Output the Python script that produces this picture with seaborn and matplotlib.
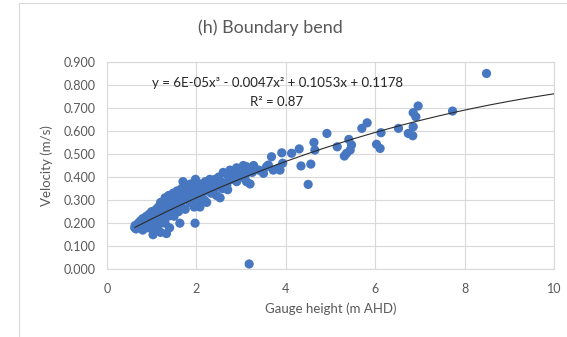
import numpy as np
import pandas as pd
import matplotlib
matplotlib.use("Agg")
import matplotlib.pyplot as plt
from matplotlib.lines import Line2D
import seaborn as sns

# Gauge height (m AHD) and velocity (m/s)
gauge_height = [
    0.62, 0.63, 0.65, 0.70, 0.72, 0.75, 0.78, 0.80, 0.80,
    0.85, 0.88, 0.90, 0.92, 0.95, 0.97, 1.00, 1.00,
    1.03, 1.05, 1.07, 1.10, 1.12, 1.15, 1.15, 1.18, 1.20, 1.20,
    1.22, 1.25, 1.28, 1.30, 1.30, 1.33, 1.35, 1.37, 1.38, 1.40,
    1.42, 1.45, 1.48, 1.50, 1.50, 1.52, 1.55, 1.57, 1.60, 1.60,
    1.62, 1.63, 1.65, 1.67, 1.70, 1.70, 1.72, 1.75, 1.77, 1.80,
    1.82, 1.85, 1.87, 1.90, 1.92, 1.95, 1.97, 1.98, 2.00, 2.00,
    2.03, 2.05, 2.08, 2.10, 2.12, 2.15, 2.18, 2.20, 2.23, 2.25, 2.28,
    2.30, 2.33, 2.35, 2.40, 2.42, 2.45, 2.48, 2.50, 2.53, 2.55, 2.58,
    2.60, 2.63, 2.68, 2.70, 2.72, 2.75, 2.80, 2.85, 2.90, 2.90, 2.95, 3.00,
    3.02, 3.05, 3.10, 3.12, 3.12, 3.15, 3.18, 3.20, 3.25, 3.28,
    3.40, 3.50, 3.57, 3.61, 3.68, 3.72, 3.83, 3.87, 3.91, 3.93,
    4.13, 4.30, 4.34, 4.50, 4.56, 4.63, 4.65, 4.92,
    5.15, 5.31, 5.36, 5.41, 5.44, 5.47, 5.70, 5.82, 6.03, 6.11, 6.13,
    6.52, 6.74, 6.84, 6.85, 6.85, 6.91, 6.96, 7.73, 8.49,
]
velocity = [
    0.180, 0.190, 0.175, 0.200, 0.185, 0.210, 0.190, 0.170, 0.220,
    0.200, 0.230, 0.210, 0.180, 0.240, 0.220, 0.200, 0.250,
    0.150, 0.170, 0.230, 0.260, 0.210, 0.190, 0.270, 0.240, 0.160, 0.290,
    0.220, 0.250, 0.280, 0.200, 0.310, 0.155, 0.270, 0.230, 0.320, 0.180,
    0.300, 0.260, 0.330, 0.230, 0.290, 0.310, 0.270, 0.340, 0.250, 0.300,
    0.320, 0.200, 0.280, 0.350, 0.380, 0.300, 0.330, 0.260, 0.360, 0.310,
    0.340, 0.290, 0.370, 0.320, 0.350, 0.270, 0.200, 0.390, 0.330, 0.360,
    0.300, 0.340, 0.270, 0.370, 0.320, 0.350, 0.300, 0.380, 0.290, 0.340, 0.360,
    0.390, 0.330, 0.370, 0.350, 0.390, 0.320, 0.360, 0.400, 0.310, 0.380, 0.350,
    0.420, 0.370, 0.365, 0.345, 0.400, 0.430, 0.390, 0.410, 0.380, 0.440, 0.420, 0.400,
    0.430, 0.450, 0.410, 0.380, 0.445, 0.430, 0.023, 0.370, 0.420, 0.450,
    0.430, 0.416, 0.445, 0.452, 0.488, 0.430, 0.438, 0.430, 0.505, 0.460,
    0.503, 0.522, 0.448, 0.368, 0.456, 0.550, 0.517, 0.589,
    0.531, 0.491, 0.503, 0.563, 0.517, 0.539, 0.611, 0.635, 0.542, 0.524, 0.592,
    0.611, 0.589, 0.579, 0.618, 0.679, 0.661, 0.708, 0.686, 0.849,
]

# Excel polynomial trendline coefficients (as printed on the chart)
trend_coeffs = [6e-05, -0.0047, 0.1053, 0.1178]
trend_range = [0.62, 10.0]

x_ticks = [0, 2, 4, 6, 8, 10]
y_ticks = [0.0, 0.1, 0.2, 0.3, 0.4, 0.5, 0.6, 0.7, 0.8, 0.9]

df = pd.DataFrame({"Gauge height": gauge_height, "Velocity": velocity})
tx = np.linspace(trend_range[0], trend_range[1], 200)
trend = pd.DataFrame({"x": tx, "y": np.polyval(trend_coeffs, tx)})

sns.set_theme(style="white")
plt.rcParams["font.family"] = ["Lato", "DejaVu Sans"]

text_col = "#595959"
grid_col = "#d9d9d9"

fig = plt.figure(figsize=(5.67, 3.37), dpi=100)
ax = fig.add_axes([107 / 567, 1 - 269.3 / 337, (554 - 107) / 567, (269.3 - 61.7) / 337])

ax.set_axisbelow(True)
ax.set_xlim(0, 10)
ax.set_ylim(0, 0.9)
ax.set_xticks(x_ticks)
ax.set_yticks(y_ticks)
ax.set_xticklabels([f"{t:g}" for t in x_ticks])
ax.set_yticklabels([f"{t:.3f}" for t in y_ticks])
ax.grid(True, color=grid_col, linewidth=0.8)
for s in ax.spines.values():
    s.set_color(grid_col)
    s.set_linewidth(0.8)
ax.tick_params(axis="y", length=0, labelsize=9, labelcolor=text_col, pad=8)
ax.tick_params(axis="x", length=0, labelsize=9, labelcolor=text_col, pad=10)

sns.scatterplot(data=df, x="Gauge height", y="Velocity", ax=ax, color="#4677c0",
                s=44, edgecolor="none", linewidth=0, zorder=3)
sns.lineplot(data=trend, x="x", y="y", ax=ax, color="#2b2b2b", linewidth=0.8, zorder=4)

ax.set_xlabel("Gauge height (m AHD)", fontsize=9.5, color=text_col, labelpad=5)
ax.set_ylabel("Velocity (m/s)", fontsize=9.5, color=text_col, labelpad=8)

fig.text(270 / 567, 1 - 28 / 337, "(h) Boundary bend", ha="center", va="center",
         fontsize=13, color=text_col)
fig.text(277 / 567, 1 - 83 / 337, "y = 6E-05x³ - 0.0047x² + 0.1053x + 0.1178",
         ha="center", va="center", fontsize=9.5, color="#262626")
fig.text(277 / 567, 1 - 102 / 337, "R² = 0.87", ha="center", va="center",
         fontsize=9.5, color="#262626")

# chart-area border (light grey)
fig.add_artist(Line2D([19 / 567, 19 / 567], [0, 1 - 3 / 337], color=grid_col, lw=0.8,
                      transform=fig.transFigure))
fig.add_artist(Line2D([19 / 567, 1], [1 - 3 / 337, 1 - 3 / 337], color=grid_col, lw=0.8,
                      transform=fig.transFigure))

fig.savefig("out.png", dpi=100)
